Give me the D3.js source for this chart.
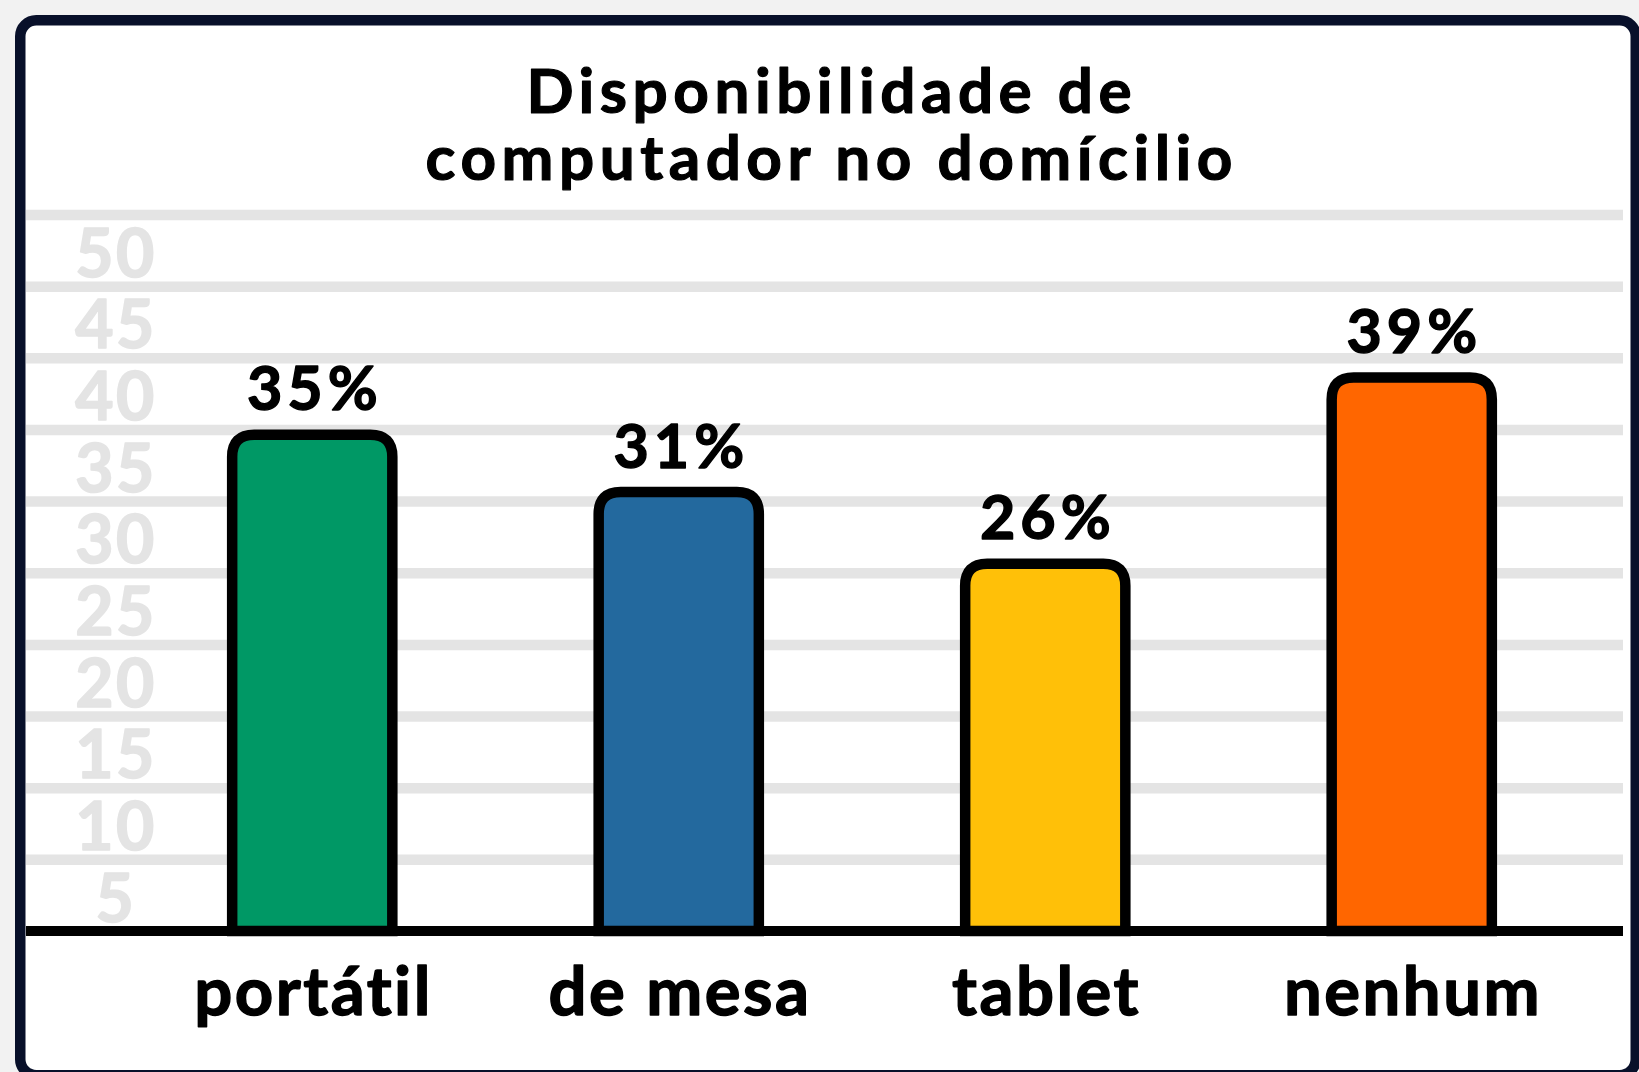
<!DOCTYPE html>
<html>
<head>
<meta charset="utf-8">
<script src="https://cdn.jsdelivr.net/npm/d3@7"></script>
<style>
    html, body { margin: 0; padding: 0; background: #f2f2f2; }
    svg { display: block; }
    text { font-family: Lato, "Noto Sans", sans-serif; font-weight: 700; stroke-linejoin: round; }
</style>
</head>
<body>
<div id="chart"></div>
<script>
// data
const categories = ["portátil", "de mesa", "tablet", "nenhum"];
const values = [35, 31, 26, 39];
const barColors = ["#009865", "#23699e", "#ffc008", "#ff6600"];
const yTicks = [5, 10, 15, 20, 25, 30, 35, 40, 45, 50];
const titleLines = ["Disponibilidade de", "computador no domícilio"];

function main() {
    const canvasWidth = 1639;
    const canvasHeight = 1072;

    const svg = d3.select("#chart").append("svg")
        .attr("width", canvasWidth)
        .attr("height", canvasHeight);

    // card
    svg.append("rect")
        .attr("x", 20.25)
        .attr("y", 20.25)
        .attr("width", 1615.5)
        .attr("height", 1055)
        .attr("rx", 16)
        .attr("fill", "#ffffff")
        .attr("stroke", "#08102a")
        .attr("stroke-width", 10.5);

    const left = 26, right = 1623;

    const yScale = d3.scaleLinear()
        .domain([0, 50])
        .range([931, 214.5]);

    const xScale = d3.scaleBand()
        .domain(categories)
        .range([129, 1595])
        .paddingInner(0.563)
        .paddingOuter(0.2815);

    // title
    const titleLs = 5.5;
    svg.append("text")
        .attr("text-anchor", "middle")
        .attr("font-size", "62px")
        .attr("letter-spacing", titleLs + "px")
        .attr("fill", "#000")
        .attr("stroke", "#000")
        .attr("stroke-width", 1.2)
        .selectAll("tspan")
        .data(titleLines)
        .enter().append("tspan")
        .attr("x", 829 + titleLs / 2)
        .attr("y", (d, i) => 113 + i * 67)
        .text(d => d);

    // gridlines + y labels (labels sit in the band below each line)
    const yAxis = svg.append("g")
        .attr("transform", "translate(" + right + ",0)")
        .call(d3.axisLeft(yScale).tickValues(yTicks).tickSize(right - left).tickFormat(d3.format("d")));

    yAxis.select(".domain").remove();
    yAxis.selectAll(".tick line")
        .attr("stroke", "#e4e4e4")
        .attr("stroke-width", 10.5);
    yAxis.selectAll(".tick text")
        .attr("x", 116 - right)
        .attr("y", d => yScale(d - 2.5) - yScale(d) + 26)
        .attr("dy", null)
        .attr("text-anchor", "middle")
        .attr("font-size", "66px")
        .attr("font-family", "Lato, sans-serif")
        .attr("font-weight", 700)
        .attr("letter-spacing", "2.5px")
        .attr("fill", "#e4e4e4")
        .attr("stroke", "#e4e4e4")
        .attr("stroke-width", 1.6);

    // baseline
    svg.append("line")
        .attr("x1", left)
        .attr("x2", right)
        .attr("y1", yScale(0))
        .attr("y2", yScale(0))
        .attr("stroke", "#000")
        .attr("stroke-width", 10);

    // bars with rounded top corners
    const sw = 10.5;
    const r = 22;
    function barPath(d, i) {
        const x0 = xScale(categories[i]);
        const x1 = x0 + xScale.bandwidth();
        const top = yScale(d) + sw / 2;
        const bottom = yScale(0);
        return "M" + x0 + "," + bottom +
            "V" + (top + r) +
            "Q" + x0 + "," + top + " " + (x0 + r) + "," + top +
            "H" + (x1 - r) +
            "Q" + x1 + "," + top + " " + x1 + "," + (top + r) +
            "V" + bottom + "Z";
    }

    svg.append("g")
        .selectAll("path")
        .data(values)
        .enter()
        .append("path")
        .attr("d", barPath)
        .attr("fill", (d, i) => barColors[i])
        .attr("stroke", "#000")
        .attr("stroke-width", sw)
        .attr("stroke-linejoin", "miter");

    // value labels
    const valLs = 5;
    svg.append("g")
        .selectAll("text")
        .data(values)
        .enter()
        .append("text")
        .attr("x", (d, i) => xScale(categories[i]) + xScale.bandwidth() / 2 + valLs / 2)
        .attr("y", d => yScale(d) - 19)
        .attr("text-anchor", "middle")
        .attr("font-size", "61px")
        .attr("letter-spacing", valLs + "px")
        .attr("fill", "#000")
        .attr("stroke", "#000")
        .attr("stroke-width", 1.4)
        .text(d => d + "%");

    // category labels
    const catLs = 2.5;
    const xAxis = svg.append("g")
        .attr("transform", "translate(0," + yScale(0) + ")")
        .call(d3.axisBottom(xScale).tickSize(0));

    xAxis.select(".domain").remove();
    xAxis.selectAll(".tick text")
        .attr("x", catLs / 2)
        .attr("y", 84)
        .attr("dy", null)
        .attr("font-size", "67px")
        .attr("font-family", "Lato, sans-serif")
        .attr("font-weight", 700)
        .attr("letter-spacing", catLs + "px")
        .attr("fill", "#000")
        .attr("stroke", "#000")
        .attr("stroke-width", 1.4);
}
main();
</script>
</body>
</html>
